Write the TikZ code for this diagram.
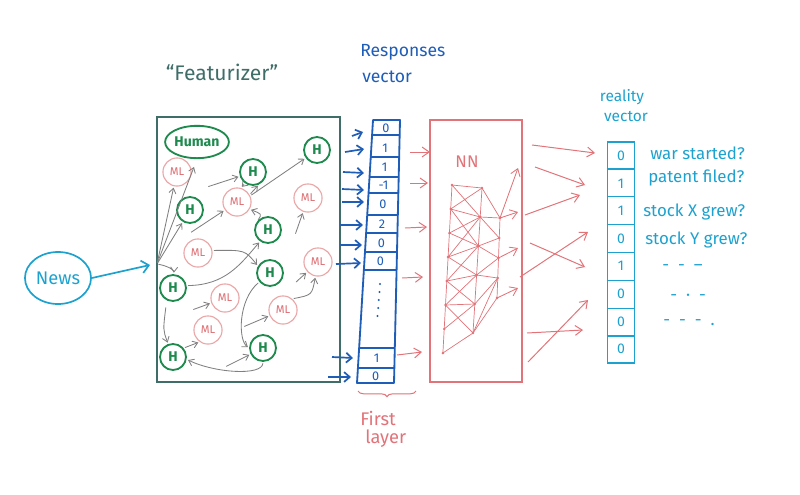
\documentclass[tikz,border=0pt]{standalone}
\usepackage{fontspec}
\setmainfont{Fira Sans}
\usetikzlibrary{arrows.meta,calc,shapes.geometric,decorations.pathreplacing}
\definecolor{featc}{HTML}{3F6E69}
\definecolor{hgreen}{HTML}{1E8A4E}
\definecolor{mlcirc}{HTML}{EBA7A8}
\definecolor{mltext}{HTML}{DD6E73}
\definecolor{grayarr}{HTML}{808080}
\definecolor{blu}{HTML}{1E5DB8}
\definecolor{cyn}{HTML}{1DA2CF}
\definecolor{nnred}{HTML}{E27379}
\newcommand{\myfs}[1]{\fontsize{#1}{#1}\selectfont}
\begin{document}
\begin{tikzpicture}[x=0.025cm,y=-0.025cm,
  hnode/.style={circle,draw=hgreen,line width=1.3pt,text=hgreen,minimum size=18.5pt,inner sep=0pt,font=\myfs{10}\bfseries},
  mlnode/.style={circle,draw=mlcirc,line width=0.8pt,text=mltext,minimum size=20pt,inner sep=0pt,font=\myfs{8}},
  garr/.style={draw=grayarr,line width=0.6pt,-{Straight Barb[length=3.5pt,width=5pt]},shorten >=1pt,shorten <=1pt},
  barr/.style={draw=blu,line width=1.2pt,-{Straight Barb[length=4pt,width=7pt]}},
  parr/.style={draw=nnred,line width=0.7pt,-{Straight Barb[length=5pt,width=7pt]}},
  carr/.style={draw=cyn,line width=1.2pt,-{Straight Barb[length=5pt,width=9pt]}},
  cellb/.style={text=blu,font=\myfs{9},inner sep=0pt},
  cellc/.style={text=cyn,font=\myfs{10},inner sep=0pt},
  lblc/.style={text=cyn,font=\myfs{12},anchor=west,inner sep=0pt},
  nnline/.style={draw=nnred,line width=0.5pt},
]
\fill[white] (0,0) rectangle (800,494);
\useasboundingbox (0,0) rectangle (800,494);

% ---------------- Featurizer ----------------
\node[text=featc,font=\myfs{15}] (ftitle) at (222,72) {“Featurizer”};
\node[draw=featc,line width=1.2pt,minimum width=4.575cm,minimum height=6.625cm,inner sep=0pt] (feat) at (248.5,249.5) {};

\node[ellipse,draw=hgreen,line width=1.3pt,minimum width=40pt,minimum height=23pt,inner sep=0pt,text=hgreen,font=\myfs{10}\bfseries] (human) at (197,142) {Human};

\node[hnode] (h1) at (317,150) {H};
\node[hnode] (h2) at (253,172) {H};
\node[hnode] (h3) at (190,210) {H};
\node[hnode] (h4) at (268,230) {H};
\node[hnode] (h5) at (173,288) {H};
\node[hnode] (h6) at (270,273) {H};
\node[hnode] (h7) at (173,357) {H};
\node[hnode] (h8) at (263,348) {H};

\node[mlnode] (ml1) at (177,172) {ML};
\node[mlnode] (ml2) at (237,202) {ML};
\node[mlnode] (ml3) at (308,198) {ML};
\node[mlnode] (ml4) at (198,253) {ML};
\node[mlnode] (ml5) at (318,262) {ML};
\node[mlnode] (ml6) at (225,298) {ML};
\node[mlnode] (ml7) at (283,310) {ML};
\node[mlnode] (ml8) at (208,330) {ML};

% gray arrows
\coordinate (fan) at (157,264);
\coordinate (s1) at (166,306);
\coordinate (s2) at (207,187);
\coordinate (s3) at (190,233);
\coordinate (s4) at (295,235);
\coordinate (s5) at (192,310);
\coordinate (s6) at (243,327);
\coordinate (s7) at (295,283);
\coordinate (s8) at (225,367);
\draw[garr,shorten >=6pt] (fan) -- (human.south);
\draw[garr] (fan) -- (ml1);
\draw[garr] (fan) -- (h3);
\draw[garr] (fan) .. controls (168,266) and (174,270) .. (h5);
\draw[garr] (s1) .. controls (163,330) .. (h7);
\draw[garr] (s2) -- (h2);
\draw[garr] (h2.235) -- (ml2.75);
\draw[garr] (ml2.30) -- (h2.295);
\draw[garr] (ml2.25) -- (h1.215);
\draw[garr] (s3) -- (ml2);
\draw[garr] (h4.140) .. controls (262,214) .. (ml2.330);
\draw[garr] (s4) -- (ml3);
\draw[garr] (ml4.10) .. controls (245,250) .. (h6.150);
\draw[garr] (h5.10) .. controls (225,285) and (240,265) .. (h4.235);
\draw[garr] (s5) -- (ml6);
\draw[garr] (h6.220) .. controls (238,300) and (238,340) .. (h8.180);
\draw[garr] (s6) -- (ml7);
\draw[garr] (s7) -- (ml5);
\draw[garr] (ml7.50) .. controls (312,295) .. (ml5.260);
\draw[garr] (h7.40) -- (ml8.235);
\draw[garr] (h8.270) .. controls (262,376) and (215,373) .. (h7.350);
\draw[garr] (s8) -- (h8);

% ---------------- News ----------------
\node[ellipse,draw=cyn,line width=1.2pt,minimum width=47pt,minimum height=37pt,inner sep=0pt,text=cyn,font=\myfs{13}] (news) at (58,278) {News};
\coordinate (newsend) at (150,265);
\draw[carr] (news.east) -- (newsend);

% ---------------- Responses vector ----------------
\node[text=blu,font=\myfs{12.5},anchor=west,inner sep=0pt] (resp1) at (360,52) {Responses};
\node[text=blu,font=\myfs{12.5},anchor=west,inner sep=0pt] (resp2) at (362,77) {vector};

\coordinate (rtl) at (373,120);
\coordinate (rtr) at (400,120);
\coordinate (rbr) at (394,383);
\coordinate (rbl) at (357,383);
\draw[blu,line width=1.3pt,line join=round] (rtl) -- (rtr) -- (rbr) -- (rbl) -- cycle;
\foreach \t in {0.057,0.141,0.217,0.278,0.361,0.430,0.502,0.570,0.867,0.943}
  \draw[blu,line width=1pt] ($(rtl)!\t!(rbl)$) -- ($(rtr)!\t!(rbr)$);
\node[cellb] (r1) at (386,128) {0};
\node[cellb] (r2) at (385,148) {1};
\node[cellb] (r3) at (384.5,167) {1};
\node[cellb] (r4) at (383.5,185) {-1};
\node[cellb] (r5) at (383,204) {0};
\node[cellb] (r6) at (382,224) {2};
\node[cellb] (r7) at (381.3,243) {0};
\node[cellb] (r8) at (380.5,261) {0};
\foreach \k in {0,...,4}
  \fill[blu] ({380-0.6*\k},{284+8*\k}) circle (0.8pt);
\node[cellb] (r9) at (376.5,358) {1};
\node[cellb] (r10) at (375.7,376) {0};

% blue arrows feat -> responses
\foreach \n/\xa/\ya/\xb/\yb in {1/352/136/363/132,2/345/152/364/149,3/343/172/364/173,4/342/189/364/190,5/342/202/364/202,6/340/225/363/225,7/340/245/362/245,8/336/264/361/263,9/332/357/353/358,10/328/377/351/377}{
  \coordinate (ba\n) at (\xa,\ya);
  \coordinate (bb\n) at (\xb,\yb);
  \draw[barr] (ba\n) -- (bb\n);
}

% brace + First layer
\coordinate (bl) at (358,391);
\coordinate (br) at (416,391);
\draw[nnred,line width=0.7pt,decorate,decoration={brace,mirror,amplitude=4pt}] (bl) -- (br);
\node[text=nnred,font=\myfs{13},anchor=west,inner sep=0pt] (first) at (360,418) {First};
\node[text=nnred,font=\myfs{13},anchor=west,inner sep=0pt] (layer) at (365,439) {layer};

% ---------------- NN ----------------
\node[draw=nnred,line width=0.8pt,minimum width=2.3cm,minimum height=6.55cm,inner sep=0pt] (nn) at (476,251) {};
\node[text=nnred,font=\myfs{12}] (nnlbl) at (467,162) {NN};

\foreach \n/\xa/\ya/\xb/\yb in {1/410/152/430/152,2/410/183/428/183,3/405/228/427/227,4/402/278/423/277,5/397/355/422/352}{
  \coordinate (pa\n) at (\xa,\ya);
  \coordinate (pb\n) at (\xb,\yb);
  \draw[parr] (pa\n) -- (pb\n);
}

\foreach \i in {0,...,7} \coordinate (ca\i) at ({452-1.3*\i},{185+24*\i});
\foreach \j in {0,...,5} \coordinate (cb\j) at ({482-1.8*\j},{188+29*\j});
\foreach \k in {0,...,4} \coordinate (cc\k) at ({500-0.75*\k},{218+20*\k});
\draw[nnline] (ca0) -- (ca7);
\draw[nnline] (cb0) -- (cb5);
\draw[nnline] (cc0) -- (cc4);
\foreach \i in {0,...,5}
  \foreach \j in {0,...,5}{
    \pgfmathtruncatemacro\cnd{abs(\i-1.3*\j)<=1.7}
    \ifnum\cnd=1 \draw[nnline] (ca\i) -- (cb\j); \fi
  }
\foreach \j in {0,...,5}
  \foreach \k in {0,...,4}{
    \pgfmathtruncatemacro\cnd{abs(\j-1.2*\k-0.4)<=1.1}
    \ifnum\cnd=1 \draw[nnline] (cb\j) -- (cc\k); \fi
  }
\draw[nnline] (ca6) -- (cb4);
\draw[nnline] (ca7) -- (cb5);
\foreach \i in {0,...,7} \fill[nnred] (ca\i) circle (1pt);
\foreach \j in {0,...,5} \fill[nnred] (cb\j) circle (1pt);
\foreach \k in {0,...,4} \fill[nnred] (cc\k) circle (1pt);
\coordinate (co1) at (518,168);
\coordinate (co2) at (518,212);
\coordinate (co3) at (518,248);
\coordinate (co4) at (518,288);
\draw[parr,line width=0.6pt] (cc0) -- (co1);
\draw[parr,line width=0.6pt] (cc0) -- (co2);
\draw[parr,line width=0.6pt] (cc2) -- (co3);
\draw[parr,line width=0.6pt] (cc4) -- (co4);

% ---------------- Reality vector ----------------
\node[text=cyn,font=\myfs{11}] (real1) at (622,97) {reality};
\node[text=cyn,font=\myfs{11}] (real2) at (626,117) {vector};
\node[draw=cyn,line width=1.3pt,minimum width=0.675cm,minimum height=5.525cm,inner sep=0pt] (real) at (621,252.5) {};
\foreach \k in {1,...,7}
  \draw[cyn,line width=1pt] ($(real.north west)!{\k/8}!(real.south west)$) -- ($(real.north east)!{\k/8}!(real.south east)$);
\foreach \k/\v in {0/0,1/1,2/1,3/0,4/1,5/0,6/0,7/0}
  \node[cellc] (rv\k) at ({621},{142+27.6*\k+13.8}) {\v};

\node[lblc] (q1) at (650,153) {war started?};
\node[lblc] (q2) at (648,178) {patent filed?};
\node[lblc] (q3) at (643,212) {stock X grew?};
\node[lblc] (q4) at (645,240) {stock Y grew?};
\node[lblc] (q5) at (662,268) {-\ \ -\ \ –};
\node[lblc] (q6) at (670,297) {-\ \ ·\ \ -};
\node[lblc] (q7) at (663,323) {-\ \ -\ \ -\ \ .};

% NN -> reality arrows
\foreach \n/\xa/\ya/\xb/\yb in {1/532/145/595/153,2/535/167/585/185,3/525/215/580/195,4/520/277/588/232,5/530/243/585/267,6/527/333/583/330,7/528/362/588/300}{
  \coordinate (na\n) at (\xa,\ya);
  \coordinate (nb\n) at (\xb,\yb);
  \draw[parr] (na\n) -- (nb\n);
}
\end{tikzpicture}
\end{document}
